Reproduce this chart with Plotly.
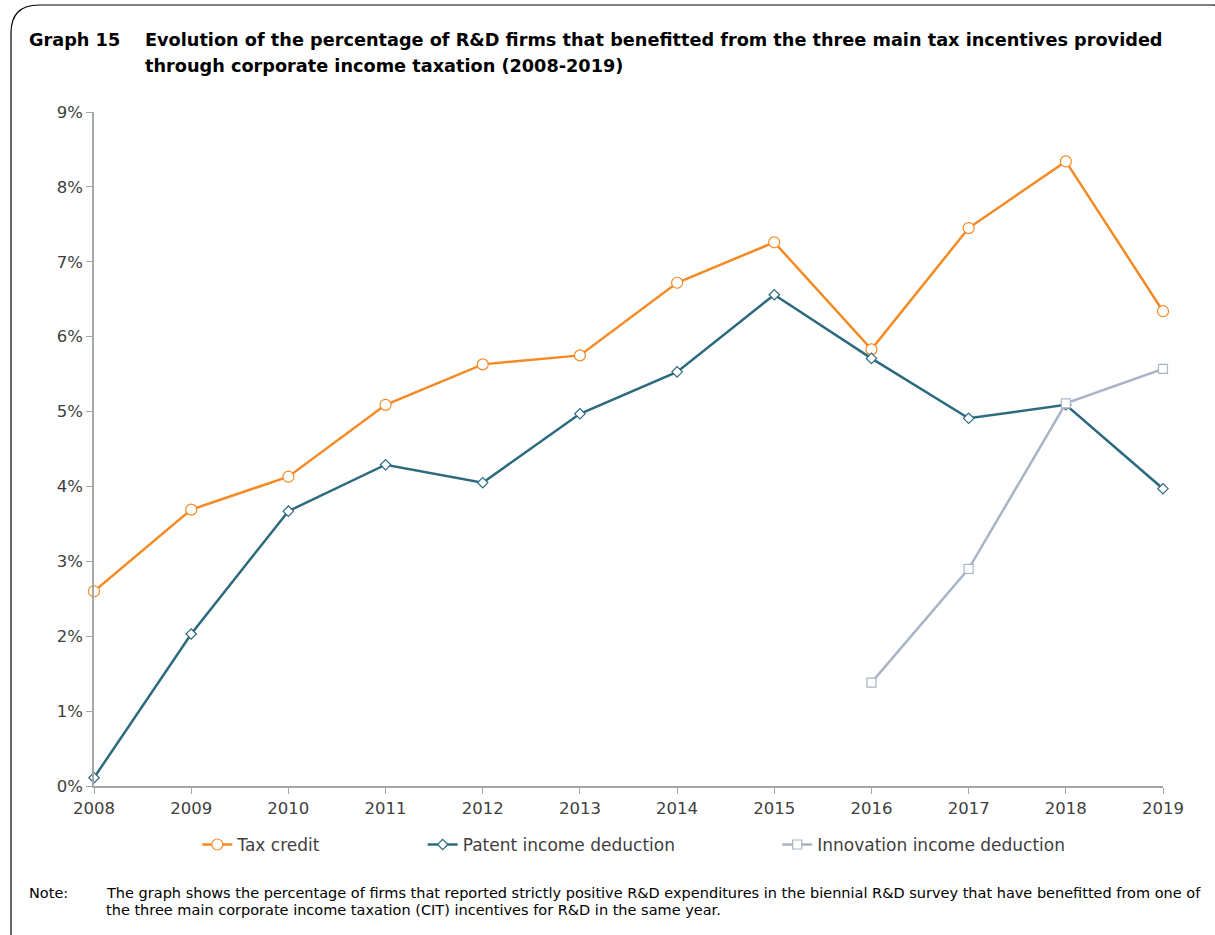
import plotly.graph_objects as go

years = [2008, 2009, 2010, 2011, 2012, 2013, 2014, 2015, 2016, 2017, 2018, 2019]
tax_credit = [2.60, 3.69, 4.13, 5.09, 5.63, 5.75, 6.72, 7.26, 5.83, 7.45, 8.34, 6.34]
patent = [0.11, 2.03, 3.67, 4.29, 4.05, 4.97, 5.53, 6.56, 5.71, 4.91, 5.09, 3.97]
innov_years = [2016, 2017, 2018, 2019]
innovation = [1.38, 2.90, 5.11, 5.57]

y_ticks = list(range(0, 10))
y_labels = [f"{v}%" for v in y_ticks]

FONT = "DejaVu Sans"
TXT = "#404040"
pad = "\u00a0" * 18

fig = go.Figure()
fig.add_trace(go.Scatter(x=years, y=tax_credit, name="Tax credit" + pad, mode="lines+markers",
                         cliponaxis=False, line=dict(color="#F58A24", width=2.5),
                         marker=dict(symbol="circle", size=11, color="white",
                                     line=dict(color="#F58A24", width=1.2))))
fig.add_trace(go.Scatter(x=years, y=patent, name="Patent income deduction" + pad, mode="lines+markers",
                         cliponaxis=False, line=dict(color="#2C6A7F", width=2.5),
                         marker=dict(symbol="diamond", size=8, color="white",
                                     line=dict(color="#2C6A7F", width=1.2))))
fig.add_trace(go.Scatter(x=innov_years, y=innovation, name="Innovation income deduction", mode="lines+markers",
                         cliponaxis=False, line=dict(color="#A9B5C7", width=2.5),
                         marker=dict(symbol="square", size=9, color="white",
                                     line=dict(color="#A9B5C7", width=1.2))))

fig.update_layout(
    width=1215, height=935,
    margin=dict(l=94, r=52, t=112, b=149),
    paper_bgcolor="white", plot_bgcolor="white",
    font=dict(family=FONT, color=TXT, size=15),
    showlegend=True,
    legend=dict(orientation="h", x=0.505, xanchor="center", y=-0.0875, yanchor="middle",
                font=dict(size=17, color=TXT, family=FONT)),
    xaxis=dict(range=[2008, 2019], tickvals=years, ticks="outside", ticklen=6, tickcolor="#A6A6A6",
               showline=True, linecolor="#A6A6A6", linewidth=1.5, showgrid=False, zeroline=False,
               tickfont=dict(size=16.5, color=TXT)),
    yaxis=dict(range=[0, 9], tickvals=y_ticks, ticktext=y_labels, ticks="outside", ticklen=6,
               tickcolor="#A6A6A6", showline=True, linecolor="#A6A6A6", linewidth=1.5,
               showgrid=False, zeroline=False, tickfont=dict(size=16.5, color=TXT)),
)

# title
title_font = dict(size=17.7, color="black", family=FONT)
fig.add_annotation(text="<b>Graph 15</b>", xref="paper", yref="paper", x=-0.0627, y=1.1068,
                   xanchor="left", yanchor="middle", showarrow=False, font=title_font)
fig.add_annotation(text="<b>Evolution of the percentage of R&D firms that benefitted from the three main tax incentives provided</b>",
                   xref="paper", yref="paper", x=0.046, y=1.1068, xanchor="left", yanchor="middle",
                   showarrow=False, font=title_font)
fig.add_annotation(text="<b>through corporate income taxation (2008-2019)</b>",
                   xref="paper", yref="paper", x=0.046, y=1.0682, xanchor="left", yanchor="middle",
                   showarrow=False, font=title_font)
# note
note_font = dict(size=14.5, color="black", family=FONT)
fig.add_annotation(text="Note:", xref="paper", yref="paper", x=-0.0627, y=-0.1588,
                   xanchor="left", yanchor="middle", showarrow=False, font=note_font)
fig.add_annotation(text="The graph shows the percentage of firms that reported strictly positive R&D expenditures in the biennial R&D survey that have benefitted from one of",
                   xref="paper", yref="paper", x=0.0094, y=-0.1588, xanchor="left", yanchor="middle",
                   showarrow=False, font=note_font)
fig.add_annotation(text="the three main corporate income taxation (CIT) incentives for R&D in the same year.",
                   xref="paper", yref="paper", x=0.0094, y=-0.1840, xanchor="left", yanchor="middle",
                   showarrow=False, font=note_font)

# rounded frame
r = 28
x0, y0, x1, y1 = 11, 5, 1240, 960
def px(x):
    return (x - 94) / 1069
def py(y):
    return (786 - y) / 674
path = (f"M {px(x0)},{py(y1)} L {px(x0)},{py(y0 + r)} "
        f"Q {px(x0)},{py(y0)} {px(x0 + r)},{py(y0)} "
        f"L {px(x1 - r)},{py(y0)} Q {px(x1)},{py(y0)} {px(x1)},{py(y0 + r)} "
        f"L {px(x1)},{py(y1)}")
fig.add_shape(type="path", xref="paper", yref="paper", path=path,
              line=dict(color="black", width=1.2))

fig.write_html("out.html", config={"displayModeBar": False},
               post_script="document.body.style.margin='0';")
